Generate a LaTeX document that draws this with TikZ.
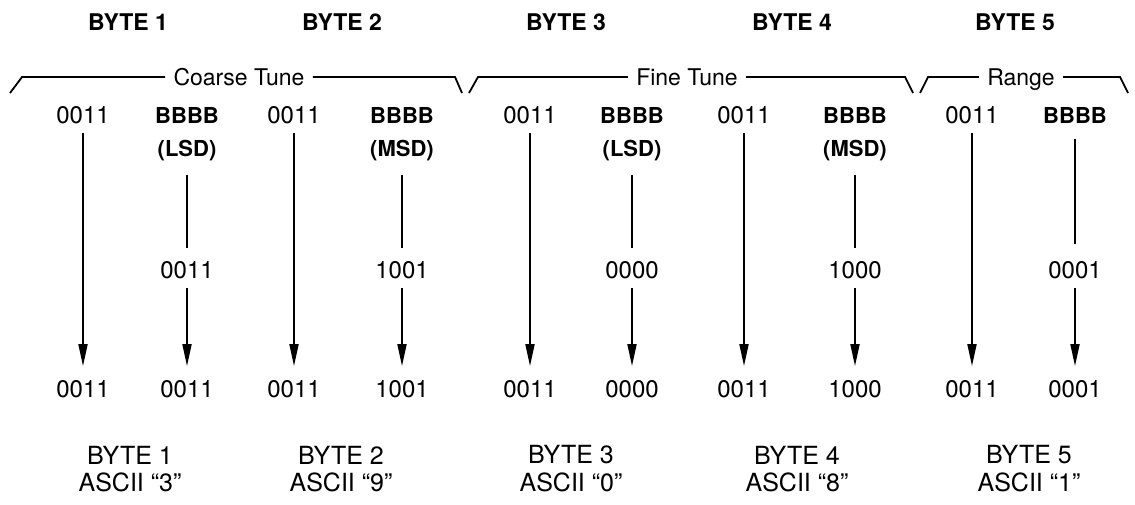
\documentclass[tikz,border=0pt]{standalone}
\usepackage{fontspec}
\setmainfont{TeX Gyre Heros}
\usetikzlibrary{arrows.meta}

\tikzset{
  val/.style={inner sep=0pt, text height=8.5pt, text depth=0pt, font=\fontsize{12}{14}\selectfont},
  bval/.style={val, font=\fontsize{11}{13}\selectfont\bfseries},
  hdr/.style={inner sep=0pt, font=\fontsize{11.5}{13}\selectfont\bfseries},
  grp/.style={inner xsep=4pt, inner ysep=0pt, text height=8.2pt, text depth=0pt, font=\fontsize{11.5}{13}\selectfont},
  lbl/.style={inner sep=0pt, font=\fontsize{12.5}{14}\selectfont},
  brace/.style={line width=0.9pt, line join=miter},
  feed/.style={line width=0.9pt, shorten <=9pt, shorten >=6.5pt},
  flow/.style={line width=0.9pt, -{Triangle[length=11pt,width=4.5pt]}, shorten <=4.5pt, shorten >=7pt},
}

\begin{document}
\begin{tikzpicture}[x=0.5pt, y=-0.5pt]
  \useasboundingbox (0,0) rectangle (1135,504);

  % byte headings
  \node[hdr] (h1) at (128,22) {BYTE 1};
  \node[hdr] (h2) at (342,22) {BYTE 2};
  \node[hdr] (h3) at (566,22) {BYTE 3};
  \node[hdr] (h4) at (792,22) {BYTE 4};
  \node[hdr] (h5) at (1015,22) {BYTE 5};

  % groups
  \node[grp] (coarse) at (239,77) {Coarse Tune};
  \node[grp] (fine) at (687,77) {Fine Tune};
  \node[grp] (range) at (1021,77) {Range};
  \draw[brace] (10,93) -- (22,77) -- (coarse.west) (coarse.east) -- (455,77) -- (462,93);
  \draw[brace] (469,93) -- (478,77) -- (fine.west) (fine.east) -- (905,77) -- (913,93);
  \draw[brace] (920,93) -- (928,77) -- (range.west) (range.east) -- (1120,77) -- (1128,93);

  % top row
  \node[val] (t1) at (83,115) {0011};
  \node[bval] (t2) at (187,115) {BBBB};
  \node[bval] (l2) at (187,148) {(LSD)};
  \node[val] (t3) at (294,115) {0011};
  \node[bval] (t4) at (402,115) {BBBB};
  \node[bval] (l4) at (402,148) {(MSD)};
  \node[val] (t5) at (530,115) {0011};
  \node[bval] (t6) at (632,115) {BBBB};
  \node[bval] (l6) at (632,148) {(LSD)};
  \node[val] (t7) at (744,115) {0011};
  \node[bval] (t8) at (855,115) {BBBB};
  \node[bval] (l8) at (855,148) {(MSD)};
  \node[val] (t9) at (972,115) {0011};
  \node[bval] (t10) at (1075,115) {BBBB};

  % middle row
  \node[val] (m2) at (187,270) {0011};
  \node[val] (m4) at (402,270) {1001};
  \node[val] (m6) at (632,270) {0000};
  \node[val] (m8) at (855,270) {1000};
  \node[val] (m10) at (1075,270) {0001};

  % bottom row
  \node[val] (b1) at (83,389) {0011};
  \node[val] (b2) at (187,389) {0011};
  \node[val] (b3) at (294,389) {0011};
  \node[val] (b4) at (402,389) {1001};
  \node[val] (b5) at (530,389) {0011};
  \node[val] (b6) at (632,389) {0000};
  \node[val] (b7) at (744,389) {0011};
  \node[val] (b8) at (855,389) {1000};
  \node[val] (b9) at (972,389) {0011};
  \node[val] (b10) at (1075,389) {0001};

  % arrows
  \draw[flow] (t1) -- (b1);
  \draw[feed] (l2) -- (m2);
  \draw[flow] (m2) -- (b2);
  \draw[flow] (t3) -- (b3);
  \draw[feed] (l4) -- (m4);
  \draw[flow] (m4) -- (b4);
  \draw[flow] (t5) -- (b5);
  \draw[feed] (l6) -- (m6);
  \draw[flow] (m6) -- (b6);
  \draw[flow] (t7) -- (b7);
  \draw[feed] (l8) -- (m8);
  \draw[flow] (m8) -- (b8);
  \draw[flow] (t9) -- (b9);
  \draw[feed, shorten <=7.5pt, shorten >=8.5pt] (t10) -- (m10);
  \draw[flow] (m10) -- (b10);

  % results
  \node[lbl] (n1) at (130,455) {BYTE 1};
  \node[lbl] (q1) at (130,482) {ASCII ``3''};
  \node[lbl] (n2) at (341,455) {BYTE 2};
  \node[lbl] (q2) at (341,482) {ASCII ``9''};
  \node[lbl] (n3) at (571,455) {BYTE 3};
  \node[lbl] (q3) at (571,482) {ASCII ``0''};
  \node[lbl] (n4) at (797,455) {BYTE 4};
  \node[lbl] (q4) at (797,482) {ASCII ``8''};
  \node[lbl] (n5) at (1029,455) {BYTE 5};
  \node[lbl] (q5) at (1029,482) {ASCII ``1''};
\end{tikzpicture}
\end{document}
